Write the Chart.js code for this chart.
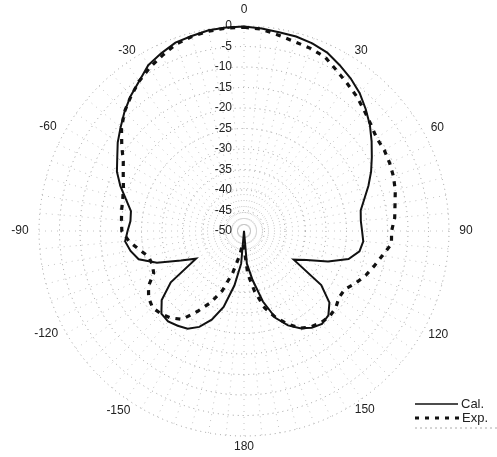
<!DOCTYPE html>
<html>
<head>
<meta charset="utf-8">
<script src="https://cdn.jsdelivr.net/npm/chart.js@4/dist/chart.umd.min.js"></script>
<style>
html, body { margin: 0; padding: 0; background: #fff; }
canvas { display: block; }
</style>
</head>
<body>
<canvas id="chPolar" width="497" height="457"></canvas>
<script>
// angle in degrees, 0 = top, clockwise
var angles = [0,5,10,15,20,25,30,35,40,45,50,55,60,65,70,75,80,85,90,95,100,105,110,115,
              120,125,130,135,140,145,150,155,160,165,170,175,180,185,190,195,200,205,210,215,
              220,225,230,235,240,245,250,255,260,265,270,275,280,285,290,295,300,305,310,315,
              320,325,330,335,340,345,350,355];

// relative power (dB)
var cal = [-0.1,-0.4,-0.8,-0.9,-1.3,-2.0,-3.3,-4.6,-6.1,-8.0,-9.9,-12.0,-14.0,-15.8,-17.7,-19.6,-21.1,-21.4,
           -21.2,-20.8,-21.4,-23.6,-28.2,-33.2,-36.0,-27.0,-22.8,-20.9,-20.4,-21.2,-22.6,-24.6,-27.4,-32.2,-37.8,-42.0,
           -50,-42.0,-36.5,-30.8,-27.0,-24.2,-22.5,-21.8,-21.2,-21.5,-23.8,-28.2,-36.5,-33.0,-27.4,-23.4,-21.9,-20.9,
           -21.6,-22.2,-22.0,-20.2,-17.9,-15.8,-14.3,-12.4,-10.7,-8.8,-7.0,-5.4,-3.3,-2.2,-1.1,-0.75,-0.3,-0.2];

var exp = [-0.3,-0.6,-1.5,-2.2,-2.6,-3.2,-4.8,-6.1,-7.2,-8.5,-9.6,-10.5,-10.5,-10.8,-11.2,-11.8,-12.6,-13.1,
           -14.0,-13.9,-15.7,-17.1,-18.4,-19.9,-21.6,-21.7,-20.8,-20.5,-20.8,-21.5,-22.6,-25.0,-27.6,-30.6,-35.0,-39.5,
           -46,-47,-44,-39.5,-34.5,-30.7,-27.4,-23.7,-22.3,-21.4,-20.9,-21.6,-23.1,-25.7,-26.2,-25.9,-24.0,-21.8,
           -20.2,-20.0,-19.7,-19.4,-18.7,-17.5,-16.0,-13.6,-11.0,-8.8,-7.1,-5.4,-4.0,-2.8,-1.5,-0.9,-0.5,-0.3];

var angleTickValues = [0,30,60,90,120,150,180,210,240,270,300,330];
var angleTickLabels = ['0','30','60','90','120','150','180','-150','-120','-90','-60','-30'];

var seriesNames = ['Cal.', 'Exp.'];

// label placement tweaks (scan is a bit off-round)
var labelNudge = {30: [3, 215], 60: [2, 219], 90: [0, 222], 120: [-2, 220], 150: [-4, 216], 180: [0, 216],
                  210: [5, 219], 240: [2.5, 223], 270: [0, 224], 300: [-2, 222], 330: [-3, 215], 0: [0, 221]};

var polarLabels = {
    id: 'polarLabels',
    beforeDatasetsDraw: function(chart) {
        var s = chart.scales.r, ctx = chart.ctx;
        ctx.save();
        ctx.font = '12px "Liberation Sans", Arial, sans-serif';
        ctx.fillStyle = '#222';
        ctx.textBaseline = 'middle';
        // ring values, just left of the 0 deg axis
        ctx.textAlign = 'right';
        s.ticks.forEach(function(t){
            var d = s.getDistanceFromCenterForValue(t.value);
            ctx.fillText(String(t.value), s.xCenter - 12, s.yCenter - d);
        });
        // angle labels
        ctx.textAlign = 'center';
        angleTickValues.forEach(function(a, i){
            var n = labelNudge[a] || [0, 220];
            var rad = (a + n[0]) * Math.PI / 180;
            var x = s.xCenter + n[1] * Math.sin(rad);
            var y = s.yCenter - n[1] * Math.cos(rad);
            ctx.fillText(angleTickLabels[i], x, y);
        });
        ctx.restore();
    },
    afterDraw: function(chart) {
        var ctx = chart.ctx;
        ctx.save();
        ctx.strokeStyle = '#111';
        ctx.lineWidth = 1.5;
        ctx.beginPath(); ctx.moveTo(415, 404); ctx.lineTo(458, 404); ctx.stroke();
        ctx.lineWidth = 2.8;
        ctx.setLineDash([4, 6]);
        ctx.beginPath(); ctx.moveTo(415, 418); ctx.lineTo(460, 418); ctx.stroke();
        ctx.strokeStyle = '#aaa';
        ctx.lineWidth = 1;
        ctx.setLineDash([2, 3]);
        ctx.beginPath(); ctx.moveTo(415, 428); ctx.lineTo(497, 428); ctx.stroke();
        ctx.setLineDash([]);
        ctx.fillStyle = '#222';
        ctx.font = '13px "Liberation Sans", Arial, sans-serif';
        ctx.textBaseline = 'middle';
        ctx.textAlign = 'left';
        ctx.fillText(seriesNames[0], 461, 404);
        ctx.fillText(seriesNames[1], 462, 418);
        ctx.restore();
    }
};

new Chart(document.getElementById('chPolar'), {
    type: 'radar',
    data: {
        labels: angles,
        datasets: [
            {
                label: seriesNames[0],
                data: cal,
                borderColor: '#111',
                borderWidth: 2,
                pointRadius: 0,
                fill: false,
                tension: 0
            },
            {
                label: seriesNames[1],
                data: exp,
                borderColor: '#111',
                borderWidth: 3.2,
                borderDash: [5, 6],
                pointRadius: 0,
                fill: false,
                tension: 0
            }
        ]
    },
    options: {
        responsive: false,
        animation: false,
        layout: {padding: {left: 39, right: 47, top: 26, bottom: 20}},
        plugins: {legend: {display: false}, tooltip: {enabled: false}},
        scales: {
            r: {
                min: -50,
                max: 0,
                startAngle: 0,
                ticks: {display: false, stepSize: 5},
                pointLabels: {display: false},
                grid: {circular: true, color: '#999', lineWidth: 1},
                border: {dash: [1, 4]},
                angleLines: {color: '#c4c4c4', lineWidth: 1, borderDash: [1, 5]}
            }
        }
    },
    plugins: [polarLabels]
});
</script>
</body>
</html>
